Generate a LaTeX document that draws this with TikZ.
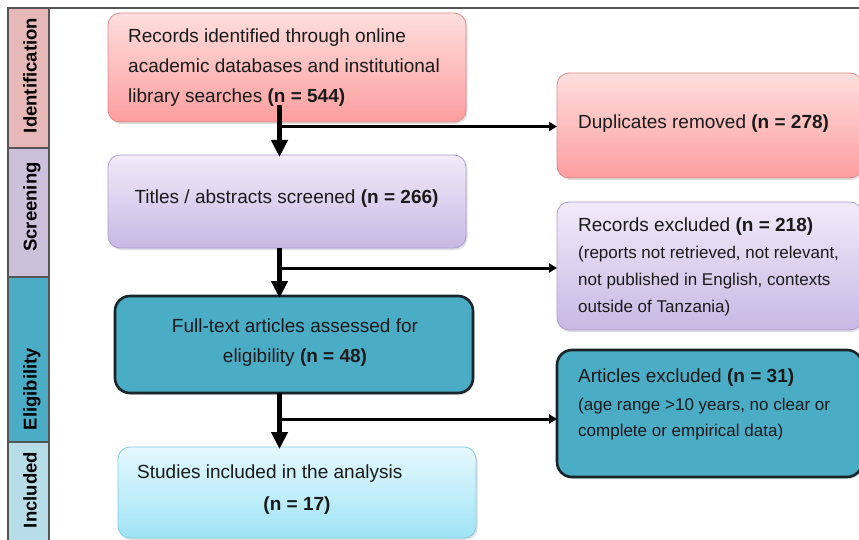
\documentclass[tikz,border=0pt]{standalone}
\usepackage{fontspec}
\setmainfont{Liberation Sans}
\usetikzlibrary{arrows.meta,shadows}
\definecolor{txt}{RGB}{26,26,26}
\definecolor{bandline}{RGB}{85,85,85}
\definecolor{bandI}{RGB}{230,185,184}
\definecolor{bandS}{RGB}{204,192,218}
\definecolor{bandE}{RGB}{75,172,198}
\definecolor{bandN}{RGB}{183,222,232}
\definecolor{redTop}{RGB}{255,222,222}
\definecolor{redBot}{RGB}{252,158,158}
\definecolor{redLine}{RGB}{226,140,140}
\definecolor{purTop}{RGB}{241,235,249}
\definecolor{purBot}{RGB}{200,184,228}
\definecolor{purLine}{RGB}{176,158,210}
\definecolor{teal}{RGB}{75,172,198}
\definecolor{tealLine}{RGB}{24,36,40}
\definecolor{bluTop}{RGB}{228,248,253}
\definecolor{bluBot}{RGB}{160,228,246}
\definecolor{bluLine}{RGB}{128,205,228}
\tikzset{
  boxbase/.style={rectangle, inner sep=0pt, outer sep=0pt,
    drop shadow={opacity=0.25, shadow xshift=1.5pt, shadow yshift=-2pt}},
  redbox/.style={boxbase, rounded corners=12pt, top color=redTop, bottom color=redBot, draw=redLine, line width=0.8pt},
  purbox/.style={boxbase, rounded corners=12pt, top color=purTop, bottom color=purBot, draw=purLine, line width=0.8pt},
  tealbox/.style={boxbase, rounded corners=15pt, fill=teal, draw=tealLine, line width=2.6pt},
  blubox/.style={boxbase, rounded corners=12pt, top color=bluTop, bottom color=bluBot, draw=bluLine, line width=0.8pt},
  big/.style={inner sep=0pt, text=txt, font=\fontsize{19}{30}\selectfont},
  small/.style={inner sep=0pt, text=txt, font=\fontsize{17}{27}\selectfont},
  bandlbl/.style={inner sep=0pt, text=black, rotate=90, anchor=base, font=\fontsize{18.5}{20}\selectfont\bfseries},
  bigarrow/.style={line width=5pt, -{Triangle[width=16pt,length=17pt]}, shorten >=-2pt},
  smallarrow/.style={line width=3pt, -{Triangle[width=9pt,length=8pt]}},
}
\begin{document}
\begin{tikzpicture}[x=1pt,y=-1pt]
\useasboundingbox (0,0) rectangle (859,540);
\fill[white] (0,0) rectangle (859,540);
\clip (0,0) rectangle (859,540);

% stage bands
\fill[bandI] (8,8) rectangle (49,148);
\fill[bandS] (8,148) rectangle (49,277);
\fill[bandE] (8,277) rectangle (49,442);
\fill[bandN] (8,442) rectangle (49,541);
\draw[bandline, line width=1.4pt] (8,541) -- (8,8) -- (859,8);
\draw[bandline, line width=1.4pt] (49,8) -- (49,541);
\draw[bandline, line width=1.2pt] (8,148) -- (49,148) (8,277) -- (49,277) (8,442) -- (49,442);
\node[bandlbl] (lI) at (36.5,75.5) {Identification};
\node[bandlbl] (lS) at (36.5,207) {Screening};
\node[bandlbl] (lE) at (36.5,389) {Eligibility};
\node[bandlbl] (lN) at (36.5,490) {Included};

% boxes
\node[redbox, minimum width=358pt, minimum height=109pt] (b1) at (287,67.5) {};
\node[purbox, minimum width=358pt, minimum height=93pt] (b2) at (287,201.5) {};
\node[tealbox, minimum width=358pt, minimum height=97pt] (b3) at (294,344.5) {};
\node[blubox, minimum width=358pt, minimum height=91pt] (b4) at (297,492.5) {};
\node[redbox, minimum width=305pt, minimum height=105pt] (b5) at (709.5,125.5) {};
\node[purbox, minimum width=305pt, minimum height=128pt] (b6) at (709.5,266) {};
\node[tealbox, minimum width=305pt, minimum height=127pt] (b7) at (709.5,413.5) {};

% texts
\node[big, anchor=base west] (t1a) at (128,43) {Records identified through online};
\node[big, anchor=base west] (t1b) at (128,73) {academic databases and institutional};
\node[big, anchor=base west] (t1c) at (128,103) {library searches \textbf{(n = 544)}};
\node[big, anchor=base] (t2) at (286.5,204) {Titles / abstracts screened \textbf{(n = 266)}};
\node[big, anchor=base] (t3a) at (295,332) {Full-text articles assessed for};
\node[big, anchor=base] (t3b) at (295,362) {eligibility \textbf{(n = 48)}};
\node[big, anchor=base west] (t4a) at (137,478) {Studies included in the analysis};
\node[big, anchor=base] (t4b) at (297,510) {\textbf{(n = 17)}};
\node[big, anchor=base west] (t5) at (578,129) {Duplicates removed \textbf{(n = 278)}};
\node[big, anchor=base west] (t6a) at (578,231) {Records excluded \textbf{(n = 218)}};
\node[small, anchor=base west] (t6b) at (578,258) {(reports not retrieved, not relevant,};
\node[small, anchor=base west] (t6c) at (578,285) {not published in English, contexts};
\node[small, anchor=base west] (t6d) at (578,312) {outside of Tanzania)};
\node[big, anchor=base west] (t7a) at (578,382) {Articles excluded \textbf{(n = 31)}};
\node[small, anchor=base west] (t7b) at (578,410) {(age range >10 years, no clear or};
\node[small, anchor=base west] (t7c) at (578,436) {complete or empirical data)};

% connectors
\coordinate (v1) at (279.5,105);
\coordinate (h1) at (279.5,126.5);
\coordinate (h2) at (279.5,268);
\coordinate (h3) at (279.5,419);
\draw[smallarrow] (h1) -- (h1 -| b5.west);
\draw[smallarrow] (h2) -- (h2 -| b6.west);
\draw[smallarrow] (h3) -- (h3 -| b7.west);
\draw[bigarrow] (v1) -- (v1 |- b2.north);
\draw[bigarrow] (v1 |- b2.south) -- (v1 |- b3.north);
\draw[bigarrow] (v1 |- b3.south) -- (v1 |- b4.north);
\end{tikzpicture}
\end{document}
